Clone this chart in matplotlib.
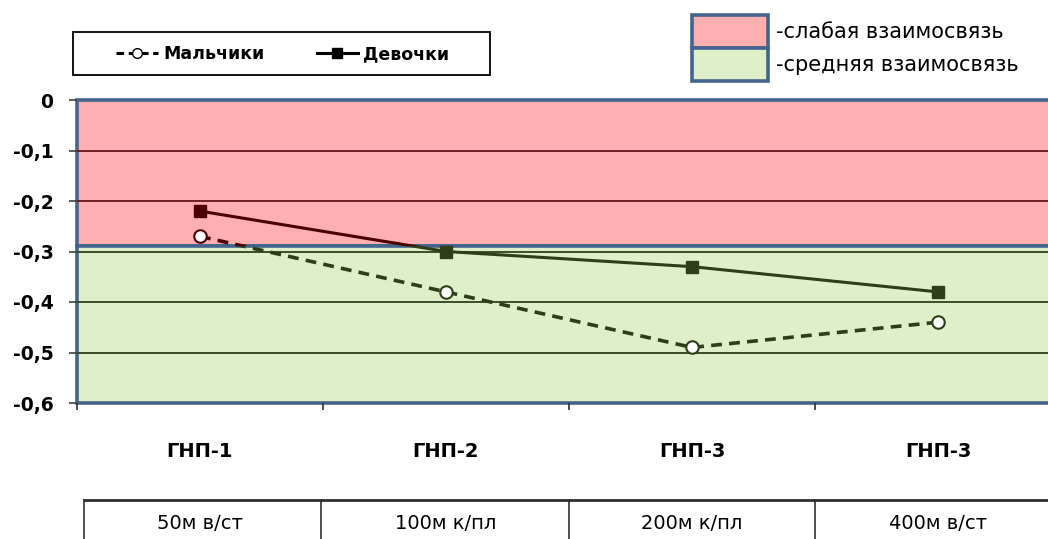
import matplotlib
matplotlib.use('Agg')
import matplotlib.pyplot as plt
import matplotlib.transforms as mtransforms
from matplotlib.patches import Rectangle
from matplotlib.lines import Line2D

# ---------------- data ----------------
categories = ['ГНП-1', 'ГНП-2', 'ГНП-3', 'ГНП-3']
distances = ['50м в/ст', '100м к/пл', '200м к/пл', '400м в/ст']
boys = [-0.27, -0.38, -0.49, -0.44]      # Мальчики
girls = [-0.22, -0.30, -0.33, -0.38]     # Девочки
yticks = [0, -0.1, -0.2, -0.3, -0.4, -0.5, -0.6]
ytick_labels = ['0', '-0,1', '-0,2', '-0,3', '-0,4', '-0,5', '-0,6']
weak_zone = (-0.29, 0.0)
medium_zone = (-0.6, -0.29)
zone_labels = ['-слабая взаимосвязь', '-средняя взаимосвязь']
series_labels = ['Мальчики', 'Девочки']

# ---------------- style ----------------
pink, green = '#ffafaf', '#deefc9'
border = '#44648e'
dark_red, dark_green = '#4b0000', '#2e3e19'
grid_red, grid_green = '#6e2020', '#3b4c28'
font = 'DejaVu Sans'

W, H = 1048, 539
fig = plt.figure(figsize=(W / 100, H / 100), dpi=100)
ax = fig.add_axes([77 / W, 1 - 403 / H, (1061 - 77) / W, 303 / H])
ax.set_xlim(-0.5, 3.5)
ax.set_ylim(-0.6, 0)
for s in ax.spines.values():
    s.set_visible(False)

# coloured zones
for (lo, hi), fc in [(weak_zone, pink), (medium_zone, green)]:
    ax.add_patch(Rectangle((-0.5, lo), 5, hi - lo, facecolor=fc, edgecolor=border,
                           lw=2.6, clip_on=False, zorder=0))

# gridlines
for t in yticks[1:-1]:
    c = grid_red if t > weak_zone[0] else grid_green
    ax.axhline(t, color=c, lw=1.4, zorder=1)

# lines, coloured per zone through clipping
x = range(len(categories))
for (lo, hi), col in [(weak_zone, dark_red), (medium_zone, dark_green)]:
    clip = Rectangle((-0.6, lo), 5, hi - lo, transform=ax.transData)
    l1, = ax.plot(x, boys, color=col, lw=2.6, ls=(0, (3, 2)), marker='o', ms=9,
                  mfc='white', mec=col, mew=1.5, zorder=3)
    l2, = ax.plot(x, girls, color=col, lw=2.2, marker='s', ms=9,
                  mfc=col, mec=col, zorder=3)
    l1.set_clip_path(clip)
    l2.set_clip_path(clip)

# y axis
ax.set_yticks(yticks)
ax.set_yticklabels(ytick_labels, fontfamily=font, fontweight='bold', fontsize=13.5)
ax.tick_params(axis='y', length=6, width=1.2, color='#404040', pad=11)

# x axis
ax.set_xticks(list(x))
ax.set_xticklabels(categories, fontfamily=font, fontweight='bold', fontsize=14)
ax.set_xticks([-0.5, 0.5, 1.5, 2.5], minor=True)
ax.tick_params(axis='x', which='major', length=0, pad=28)
ax.tick_params(axis='x', which='minor', length=5, width=1.2, color='#303030')

# table row under the axis
trans = mtransforms.blended_transform_factory(ax.transData, ax.transAxes)
ax.plot([-0.47, 3.6], [-0.32, -0.32], color='#303030', lw=2, transform=trans, clip_on=False)
for xv in [-0.47, 0.49, 1.5, 2.5]:
    ax.plot([xv, xv], [-0.32, -0.5], color='#303030', lw=1.2, transform=trans, clip_on=False)
for i, d in enumerate(distances):
    ax.text(i, -0.397, d, transform=trans, ha='center', va='center',
            fontfamily=font, fontsize=14)

# series legend (frame drawn separately so entries stay centred)
fig.patches.append(Rectangle((73 / W, 1 - 75 / H), 417 / W, 43 / H,
                             transform=fig.transFigure, facecolor='white',
                             edgecolor='black', lw=1.3))
handles = [Line2D([], [], color='black', lw=2.2, ls=(0, (2.5, 1.5)), marker='o', ms=7,
                  mfc='white', mec='black'),
           Line2D([], [], color='black', lw=2.2, marker='s', ms=7, mfc='black')]
leg = fig.legend(handles, series_labels, ncol=2, loc='center',
                 bbox_to_anchor=(283 / W, 1 - 54 / H),
                 frameon=False, borderpad=0, handlelength=2.4, handletextpad=0.3,
                 columnspacing=3.0,
                 prop={'family': font, 'weight': 'bold', 'size': 12.5})

# zone legend
for i, (fc, lab) in enumerate(zip([pink, green], zone_labels)):
    top = 15 + i * 33
    fig.patches.append(Rectangle((692 / W, 1 - (top + 33) / H), 76 / W, 33 / H,
                                 transform=fig.transFigure, facecolor=fc,
                                 edgecolor=border, lw=2.6))
    fig.text(776 / W, 1 - (top + 17) / H, lab, ha='left', va='center',
             fontfamily=font, fontsize=15)

fig.savefig('out.png', dpi=100)
